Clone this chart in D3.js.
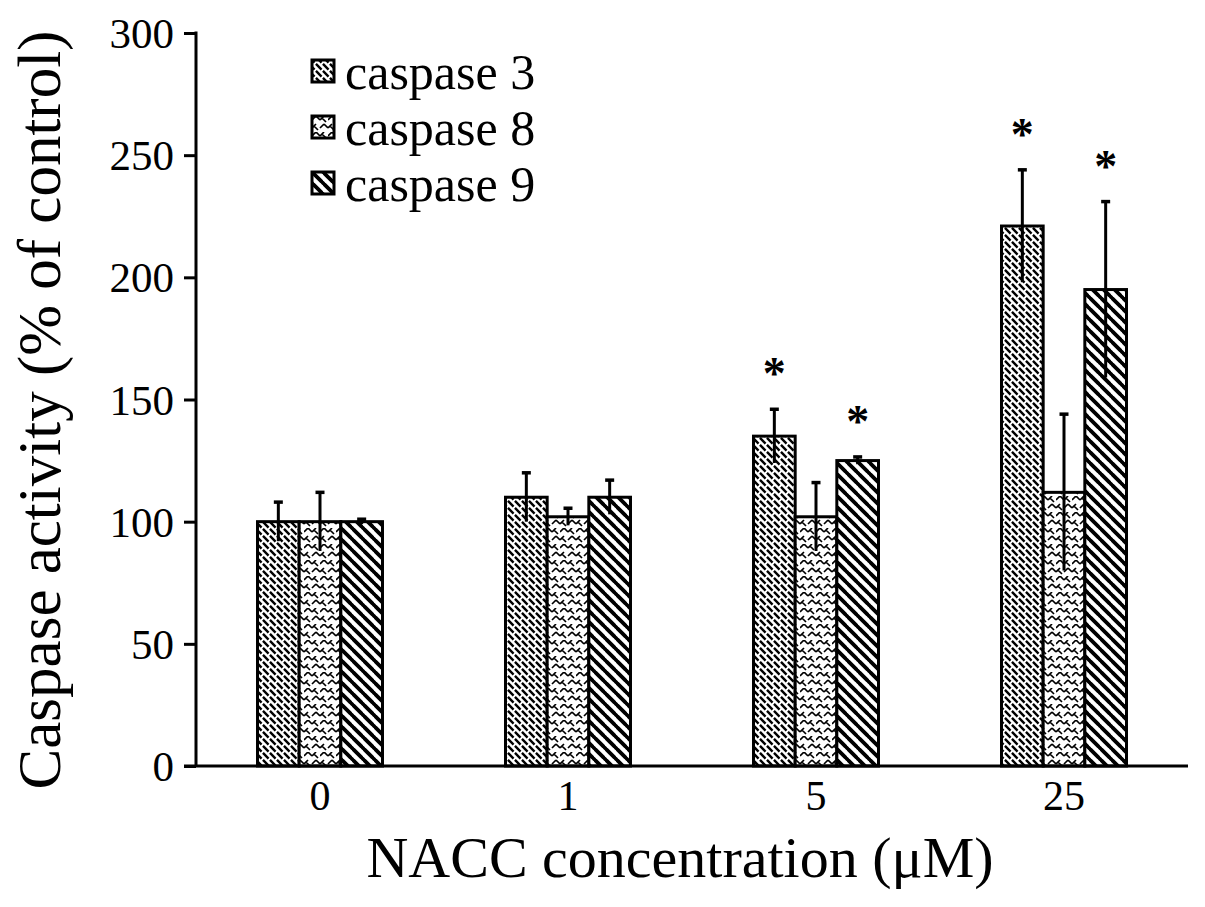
<!DOCTYPE html>
<html><head><meta charset="utf-8">
<script src="https://cdn.jsdelivr.net/npm/d3@7"></script>
<style>body{margin:0;background:#fff}svg{display:block}text{font-family:"Liberation Serif","Times New Roman",serif;fill:#000}</style>
</head><body>
<svg id="c" width="1205" height="907"></svg>
<script>
const categories = ["0", "1", "5", "25"];
const seriesNames = ["caspase 3", "caspase 8", "caspase 9"];
const caspase3 = [100, 110, 135, 221];
const caspase8 = [100, 102, 102, 112];
const caspase9 = [100, 110, 125, 195];
const err3 = [8, 10, 11, 23];
const err8 = [12, 3.5, 14, 32];
const err9 = [1, 7, 1.5, 36];
const sig3 = [false, false, true, true];
const sig9 = [false, false, true, true];
const yTicks = [0, 50, 100, 150, 200, 250, 300];

(function(){
const svg = d3.select("#c");
const mLeft = 196, mRight = 1188, mTop = 33, mBottom = 766;
const x = d3.scaleBand().domain(categories).range([mLeft, mRight]).paddingInner(0.496).paddingOuter(0.248);
const xs = d3.scaleBand().domain(seriesNames).range([0, x.bandwidth()]);
const y = d3.scaleLinear().domain([0, 300]).range([mBottom, mTop]);

// patterns
const defs = svg.append("defs");
const p3 = defs.append("pattern").attr("id","p3").attr("patternUnits","userSpaceOnUse").attr("width",7).attr("height",7);
p3.append("rect").attr("width",7).attr("height",7).attr("fill","#fff");
p3.append("path").attr("d","M-1,-1L8,8M-1,6L1,8M6,-1L8,1").attr("stroke","#000").attr("stroke-width",2.4).attr("stroke-dasharray","5,2");
const p8 = defs.append("pattern").attr("id","p8").attr("patternUnits","userSpaceOnUse").attr("width",16).attr("height",16);
p8.append("rect").attr("width",16).attr("height",16).attr("fill","#fff");
p8.append("path").attr("d","M0,4L4,0M4,0L8,4M8,4L12,0M0,12L4,8M8,12L12,8M12,8L16,12M2,10L6,14M10,2L14,6").attr("stroke","#000").attr("stroke-width",1.7).attr("fill","none");
const p9 = defs.append("pattern").attr("id","p9").attr("patternUnits","userSpaceOnUse").attr("width",11).attr("height",11);
p9.append("rect").attr("width",11).attr("height",11).attr("fill","#fff");
p9.append("path").attr("d","M-1,-1L12,12M-1,10L1,12M10,-1L12,1").attr("stroke","#000").attr("stroke-width",3.8);
const fills = ["url(#p3)","url(#p8)","url(#p9)"];

const vals = [caspase3, caspase8, caspase9];
const errs = [err3, err8, err9];
const sigs = [sig3, null, sig9];
const data = [];
categories.forEach((c,i)=>seriesNames.forEach((s,j)=>data.push({c,s,j,v:vals[j][i],e:errs[j][i],sig:sigs[j]?sigs[j][i]:false})));
const cx = d=>x(d.c)+xs(d.s)+xs.bandwidth()/2;

const g = svg.append("g");
g.selectAll("rect.bar").data(data).join("rect").attr("class","bar")
  .attr("x",d=>x(d.c)+xs(d.s)).attr("width",xs.bandwidth())
  .attr("y",d=>y(d.v)).attr("height",d=>y(0)-y(d.v))
  .attr("fill",d=>fills[d.j]).attr("stroke","#000").attr("stroke-width",3);

// error bars
const eb = g.selectAll("g.eb").data(data).join("g").attr("class","eb");
eb.append("line").attr("x1",cx).attr("x2",cx)
  .attr("y1",d=>y(d.v-d.e)).attr("y2",d=>y(d.v+d.e)).attr("stroke","#000").attr("stroke-width",3);
eb.append("line").attr("x1",d=>cx(d)-4.5).attr("x2",d=>cx(d)+4.5)
  .attr("y1",d=>y(d.v+d.e)).attr("y2",d=>y(d.v+d.e)).attr("stroke","#000").attr("stroke-width",3.5);

// asterisks
g.selectAll("text.star").data(data.filter(d=>d.sig)).join("text").attr("class","star")
  .attr("x",cx).attr("y",d=>y(d.v+d.e)-20)
  .attr("text-anchor","middle").attr("font-size",46).attr("font-weight","bold").text("*");

// axes
const ya = svg.append("g").attr("transform",`translate(${mLeft},0)`)
  .call(d3.axisLeft(y).tickValues(yTicks).tickSize(12).tickSizeOuter(0).tickPadding(10));
ya.select(".domain").attr("stroke-width",3).attr("d",`M0,${mTop-1.5}V${mBottom}`);
ya.selectAll(".tick line").attr("stroke-width",3);
ya.selectAll(".tick text").attr("font-size",43).attr("font-family","Liberation Serif").attr("dy","0.34em");

const xa = svg.append("g").attr("transform",`translate(0,${mBottom})`)
  .call(d3.axisBottom(x).tickSize(0).tickPadding(14));
xa.select(".domain").attr("stroke-width",3).attr("d",`M${mLeft-12},0H${mRight}`);
xa.selectAll(".tick text").attr("font-size",42).attr("font-family","Liberation Serif");

// titles
svg.append("text").attr("x",680).attr("y",877).attr("text-anchor","middle").attr("font-size",58).text("NACC concentration (μM)");
svg.append("text").attr("transform","translate(60,410) rotate(-90)").attr("text-anchor","middle").attr("font-size",61).text("Caspase activity (% of control)");

// legend
const lg = svg.append("g").attr("transform","translate(312,60)");
const li = lg.selectAll("g").data(seriesNames).join("g").attr("transform",(d,i)=>`translate(0,${i*56})`);
li.append("rect").attr("width",22).attr("height",22).attr("fill",(d,i)=>fills[i]).attr("stroke","#000").attr("stroke-width",3);
li.append("text").attr("x",33).attr("y",11).attr("dy","0.35em").attr("font-size",50).text(d=>d);
})();
</script>
</body></html>
